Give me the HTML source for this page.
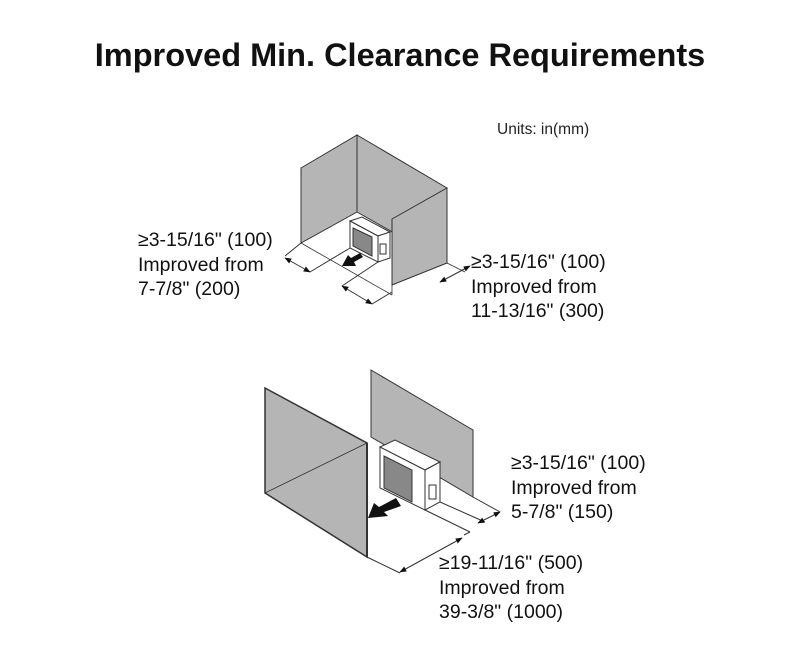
<!DOCTYPE html>
<html><head><meta charset="utf-8"><style>
body{margin:0;width:800px;height:670px;background:#fff;overflow:hidden;font-family:"Liberation Sans",sans-serif;}
.t{position:absolute;font-size:19.5px;line-height:24.5px;color:#111;white-space:nowrap}
</style></head><body>
<div style="position:absolute;top:37px;left:0;width:800px;text-align:center;font-size:32.5px;font-weight:bold;color:#111">Improved Min. Clearance Requirements</div>
<div style="position:absolute;left:497px;top:121px;font-size:15.5px;color:#222">Units: in(mm)</div>
<div class="t" style="left:138px;top:228px">≥3-15/16" (100)<br>Improved from<br>7-7/8" (200)</div>
<div class="t" style="left:471px;top:250px">≥3-15/16" (100)<br>Improved from<br>11-13/16" (300)</div>
<div class="t" style="left:511px;top:451px">≥3-15/16" (100)<br>Improved from<br>5-7/8" (150)</div>
<div class="t" style="left:439px;top:551px">≥19-11/16" (500)<br>Improved from<br>39-3/8" (1000)</div>
<svg width="800" height="670" style="position:absolute;left:0;top:0" stroke="#333" stroke-width="1">
<defs><marker id="a" viewBox="0 0 10 10" refX="9" refY="5" markerWidth="7" markerHeight="7" orient="auto-start-reverse"><path d="M0,1L10,5L0,9z" fill="#111" stroke="none"/></marker></defs>
<!-- top diagram -->
<polygon points="301,168 357,135 357,212 301,243" fill="#b5b5b5"/>
<polygon points="357,135 447,188 447,263 357,212" fill="#b5b5b5"/>
<polygon points="392,219 447,188 447,263 392,285" fill="#b5b5b5"/>
<line x1="301" y1="243" x2="392" y2="295" stroke-width="0.8"/>
<line x1="392" y1="285" x2="392" y2="295" stroke-width="0.8"/>
<line x1="447" y1="263" x2="465" y2="272" stroke-width="0.8"/>
<polygon points="350,221 362,217 390,232 378,236" fill="#fff"/>
<polygon points="350,221 378,236 378,262 350,248" fill="#fff"/>
<polygon points="378,236 390,232 390,258 378,262" fill="#fff"/>
<polygon points="353,228 372,237 372,256 353,246" fill="#888"/>
<rect x="380" y="244" width="6" height="10" fill="#fff"/>
<polygon points="342,266 348,255 351,258 360,253 363,257 354,262 356,266" fill="#111" stroke="none"/>
<line x1="285" y1="258" x2="310" y2="272" marker-start="url(#a)" marker-end="url(#a)"/>
<line x1="301" y1="243" x2="285" y2="256"/><line x1="310" y1="272" x2="350" y2="248"/>
<line x1="342" y1="286" x2="372" y2="304" marker-start="url(#a)" marker-end="url(#a)"/>
<line x1="342" y1="286" x2="378" y2="262"/><line x1="372" y1="304" x2="392" y2="292"/>
<line x1="440" y1="282" x2="470" y2="266" marker-start="url(#a)" marker-end="url(#a)"/>
<!-- bottom diagram -->
<polygon points="371,370 473,430 473,497 371,437" fill="#b5b5b5"/>
<polygon points="265,388 367,443 367,557 265,493" fill="#b5b5b5" stroke-width="1.5"/>
<line x1="265" y1="493" x2="367" y2="443" stroke-width="0.8"/>
<line x1="367" y1="443" x2="367" y2="557" stroke-width="2"/>
<polygon points="380,447 395,440 440,462 425,470" fill="#fff"/>
<polygon points="380,447 425,470 425,510 380,488" fill="#fff"/>
<polygon points="425,470 440,462 440,502 425,510" fill="#fff"/>
<polygon points="384,456 412,470 412,502 384,488" fill="#888"/>
<rect x="429" y="485" width="7" height="14" fill="#fff"/>
<polygon points="368,518 374,503 379,507 396,498 401,506 384,512 388,516" fill="#111" stroke="none"/>
<line x1="425" y1="510" x2="470" y2="532"/>
<line x1="440" y1="502" x2="485" y2="522"/>
<line x1="473" y1="497" x2="500" y2="512"/>
<line x1="478" y1="523" x2="500" y2="512" marker-start="url(#a)" marker-end="url(#a)"/>
<line x1="367" y1="557" x2="400" y2="573"/>
<line x1="470" y1="532" x2="464" y2="535"/>
<line x1="400" y1="572" x2="462" y2="538" marker-start="url(#a)" marker-end="url(#a)"/>
</svg>
</body></html>
